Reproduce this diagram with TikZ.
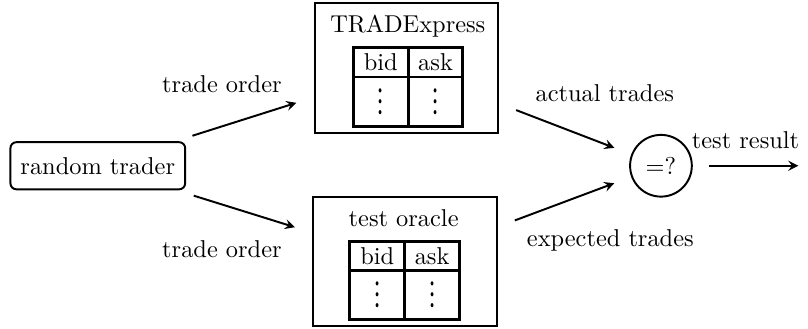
\documentclass[tikz,border=0pt]{standalone}
\usepackage{unicode-math}
\usetikzlibrary{positioning}

\begin{document}
\begin{tikzpicture}[
    trader/.style={draw,thick,rounded corners=2.5pt,minimum width=2.52cm,minimum height=0.68cm},
    engine/.style={draw,thick,minimum width=2.65cm,minimum height=1.87cm},
    cell/.style={draw,very thick,outer sep=0pt,inner sep=0pt,minimum width=0.79cm,minimum height=0.42cm},
    dotcell/.style={cell,minimum height=0.71cm},
    check/.style={draw,thick,circle,minimum size=0.89cm,inner sep=0pt},
    flow/.style={->,>=stealth,thick,shorten <=0.26cm,shorten >=0.26cm}
]

% Frame
\useasboundingbox (0,0) rectangle (11.65,4.74);

% Random trader
\node[trader] (trader) at (1.41,2.35) {random trader};

% TRADExpress and its book
\node[engine] (tx) at (5.86,3.76) {};
\node (txname) at (5.88,4.36) {TRADExpress};
\node[cell] (txbid) at (5.49,3.84) {bid};
\node[cell,right=0pt of txbid] (txask) {ask};
\node[dotcell,below=0pt of txbid] (txbidrows) {\scalebox{1.15}[1.6]{$\vdots$}};
\node[dotcell,below=0pt of txask] (txaskrows) {\scalebox{1.15}[1.6]{$\vdots$}};

% Test oracle and its book
\node[engine] (oracle) at (5.84,0.97) {};
\node (oraclename) at (5.82,1.60) {test oracle};
\node[cell] (orbid) at (5.44,1.05) {bid};
\node[cell,right=0pt of orbid] (orask) {ask};
\node[dotcell,below=0pt of orbid] (orbidrows) {\scalebox{1.15}[1.6]{$\vdots$}};
\node[dotcell,below=0pt of orask] (oraskrows) {\scalebox{1.15}[1.6]{$\vdots$}};

% Comparison
\node[check] (cmp) at (9.53,2.35) {=?};
\coordinate (result) at (11.51,2.35);

% Arrows
\draw[flow] (trader) -- (tx);
\draw[flow] (trader) -- (oracle);
\draw[flow] (tx) -- (cmp);
\draw[flow] (oracle) -- (cmp);
\draw[flow,shorten <=0.23cm,shorten >=0pt] (cmp) -- node[above=0.12cm] (resultlabel) {test result} (result);

% Labels
\node (order1) at (3.20,3.52) {trade order};
\node (order2) at (3.20,1.14) {trade order};
\node (actual) at (8.72,3.40) {actual trades};
\node (expected) at (8.80,1.27) {expected trades};

\end{tikzpicture}
\end{document}
